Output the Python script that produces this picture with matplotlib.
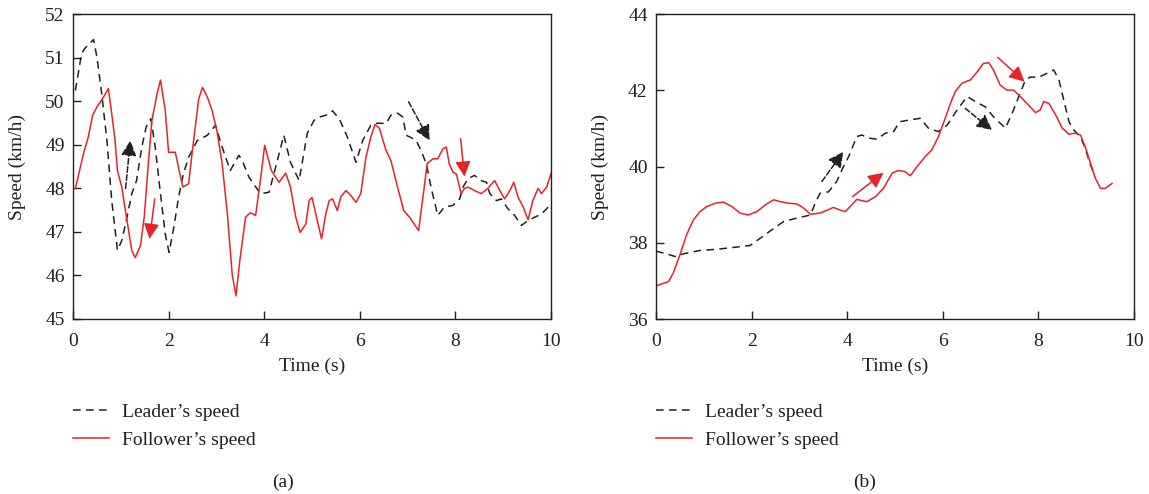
import matplotlib
matplotlib.use("Agg")
import matplotlib.pyplot as plt

plt.rcParams["font.family"] = ["Liberation Serif", "DejaVu Serif"]
plt.rcParams["font.size"] = 14

# (a) leader / follower speeds, km/h
lead_a_t = [0.05, 0.18, 0.25, 0.43, 0.50, 0.60, 0.71, 0.81, 0.93, 1.02, 1.13, 1.23, 1.33, 1.44,
            1.53, 1.63, 1.72, 1.83, 1.93, 2.01, 2.11, 2.21, 2.31, 2.42, 2.60, 2.81, 2.98, 3.12,
            3.29, 3.47, 3.54, 3.68, 3.92, 4.10, 4.24, 4.41, 4.55, 4.73, 4.90, 5.04, 5.15, 5.29,
            5.43, 5.57, 5.74, 5.92, 6.06, 6.23, 6.37, 6.55, 6.65, 6.79, 6.90, 6.97, 7.07, 7.18,
            7.28, 7.39, 7.49, 7.63, 7.77, 7.95, 8.09, 8.16, 8.26, 8.40, 8.54, 8.65, 8.72, 8.86,
            8.96, 9.10, 9.24, 9.38, 9.52, 9.66, 9.80, 10.0]
lead_a_v = [50.25, 51.10, 51.22, 51.42, 51.02, 50.18, 49.10, 47.72, 46.58, 46.80, 47.34, 47.88,
            48.18, 48.95, 49.41, 49.60, 48.95, 47.88, 46.95, 46.53, 47.11, 47.80, 48.34, 48.72,
            49.10, 49.22, 49.45, 48.95, 48.41, 48.76, 48.64, 48.26, 47.88, 47.91, 48.49, 49.22,
            48.60, 48.18, 49.26, 49.56, 49.64, 49.68, 49.78, 49.60, 49.18, 48.60, 49.10, 49.45,
            49.50, 49.49, 49.68, 49.73, 49.64, 49.22, 49.17, 49.10, 48.87, 48.57, 48.03, 47.38,
            47.57, 47.61, 47.76, 48.03, 48.22, 48.30, 48.18, 48.14, 47.88, 47.72, 47.76, 47.53,
            47.38, 47.15, 47.26, 47.34, 47.41, 47.64]
foll_a_t = [0.05, 0.22, 0.32, 0.41, 0.50, 0.60, 0.74, 0.81, 0.88, 0.93, 1.02, 1.13, 1.23, 1.30,
            1.41, 1.49, 1.56, 1.65, 1.76, 1.83, 1.93, 2.00, 2.14, 2.25, 2.30, 2.42, 2.49, 2.63,
            2.71, 2.81, 2.91, 3.01, 3.12, 3.23, 3.33, 3.41, 3.49, 3.61, 3.71, 3.82, 3.92, 4.01,
            4.15, 4.31, 4.45, 4.55, 4.66, 4.75, 4.87, 4.94, 5.00, 5.08, 5.20, 5.29, 5.36, 5.43,
            5.53, 5.60, 5.71, 5.81, 5.92, 6.02, 6.13, 6.23, 6.32, 6.41, 6.55, 6.65, 6.79, 6.92,
            7.04, 7.14, 7.23, 7.32, 7.41, 7.53, 7.63, 7.74, 7.81, 7.87, 7.95, 8.02, 8.12, 8.19,
            8.26, 8.40, 8.54, 8.68, 8.82, 8.93, 9.03, 9.14, 9.22, 9.31, 9.42, 9.52, 9.62, 9.73,
            9.80, 9.91, 10.0]
foll_a_v = [48.00, 48.80, 49.18, 49.68, 49.87, 50.03, 50.29, 49.72, 49.10, 48.41, 48.03, 47.26,
            46.57, 46.41, 46.68, 47.34, 48.34, 49.56, 50.18, 50.49, 49.79, 48.83, 48.83, 48.26,
            48.03, 48.11, 48.80, 50.06, 50.32, 50.10, 49.79, 49.33, 48.57, 47.41, 46.03, 45.53,
            46.34, 47.34, 47.44, 47.38, 48.18, 48.99, 48.41, 48.14, 48.35, 48.03, 47.34, 46.99,
            47.18, 47.72, 47.79, 47.41, 46.84, 47.42, 47.72, 47.76, 47.49, 47.80, 47.95, 47.84,
            47.68, 47.88, 48.72, 49.18, 49.47, 49.38, 48.87, 48.64, 48.03, 47.49, 47.34, 47.18,
            47.03, 47.79, 48.57, 48.68, 48.68, 48.91, 48.95, 48.57, 48.37, 48.33, 47.88, 48.00,
            48.03, 47.95, 47.88, 48.00, 48.18, 47.95, 47.76, 47.95, 48.14, 47.80, 47.57, 47.28,
            47.72, 48.00, 47.88, 48.03, 48.34]

# (b) leader / follower speeds, km/h
lead_b_t = [0.00, 0.22, 0.40, 0.57, 0.92, 1.27, 1.62, 1.97, 2.18, 2.42, 2.67, 2.95, 3.23, 3.33,
            3.43, 3.61, 3.78, 3.92, 4.03, 4.20, 4.31, 4.45, 4.62, 4.80, 4.97, 5.10, 5.32, 5.53,
            5.70, 5.91, 6.09, 6.30, 6.51, 6.68, 6.89, 7.06, 7.31, 7.45, 7.59, 7.73, 7.83, 8.01,
            8.18, 8.32, 8.43, 8.53, 8.64, 8.74, 8.88, 8.98, 9.09, 9.16]
lead_b_v = [37.78, 37.71, 37.64, 37.71, 37.80, 37.83, 37.88, 37.93, 38.12, 38.34, 38.56, 38.65,
            38.73, 39.04, 39.30, 39.34, 39.61, 40.00, 40.26, 40.79, 40.83, 40.75, 40.72, 40.88,
            40.92, 41.18, 41.23, 41.27, 41.01, 40.92, 41.09, 41.49, 41.84, 41.71, 41.57, 41.31,
            41.01, 41.40, 41.84, 42.28, 42.35, 42.35, 42.45, 42.54, 42.28, 41.75, 41.18, 40.96,
            40.79, 40.48, 40.04, 39.83]
foll_b_t = [0.00, 0.26, 0.36, 0.50, 0.64, 0.78, 0.92, 1.06, 1.24, 1.41, 1.59, 1.76, 1.93, 2.11,
            2.28, 2.46, 2.60, 2.77, 2.95, 3.09, 3.23, 3.43, 3.57, 3.71, 3.85, 3.96, 4.06, 4.20,
            4.41, 4.59, 4.76, 4.94, 5.07, 5.21, 5.32, 5.46, 5.63, 5.77, 5.91, 6.05, 6.16, 6.26,
            6.40, 6.58, 6.72, 6.85, 6.96, 7.06, 7.20, 7.34, 7.48, 7.62, 7.76, 7.94, 8.04, 8.11,
            8.22, 8.36, 8.50, 8.64, 8.77, 8.88, 8.98, 9.09, 9.19, 9.30, 9.40, 9.54]
foll_b_v = [36.87, 36.98, 37.20, 37.68, 38.21, 38.60, 38.82, 38.95, 39.04, 39.07, 38.95, 38.78,
            38.73, 38.82, 38.99, 39.13, 39.08, 39.04, 39.02, 38.91, 38.75, 38.78, 38.85, 38.93,
            38.86, 38.82, 38.95, 39.14, 39.08, 39.21, 39.43, 39.83, 39.90, 39.87, 39.76, 40.00,
            40.26, 40.44, 40.79, 41.27, 41.66, 41.97, 42.19, 42.28, 42.49, 42.71, 42.73, 42.54,
            42.14, 42.01, 42.01, 41.84, 41.66, 41.42, 41.49, 41.71, 41.66, 41.36, 41.01, 40.85,
            40.88, 40.83, 40.52, 40.09, 39.70, 39.43, 39.43, 39.56]

# direction arrows: (tail t, tail v, head t, head v, who)
arrows_a = [(1.10, 48.00, 1.20, 49.10, "lead"), (1.71, 47.76, 1.60, 46.84, "foll"),
            (7.02, 49.99, 7.46, 49.10, "lead"), (8.11, 49.14, 8.19, 48.27, "foll")]
arrows_b = [(3.47, 39.61, 3.92, 40.39, "lead"), (4.11, 39.21, 4.76, 39.84, "foll"),
            (6.47, 41.53, 7.03, 40.96, "lead"), (7.15, 42.87, 7.71, 42.23, "foll")]

yticks_a = [45, 46, 47, 48, 49, 50, 51, 52]
yticks_b = [36, 38, 40, 42, 44]
xticks = [0, 2, 4, 6, 8, 10]

RED = "#e3242b"
BLACK = "#231f20"
DASH = (0, (5, 3.5))

W, H = 1149, 494
fig = plt.figure(figsize=(W / 100, H / 100), dpi=100)
ax_a = fig.add_axes([73 / W, 1 - 319 / H, (551 - 73) / W, (319 - 14.3) / H])
ax_b = fig.add_axes([656 / W, 1 - 319 / H, (1134 - 656) / W, (319 - 14.3) / H])

panels = [
    (ax_a, lead_a_t, lead_a_v, foll_a_t, foll_a_v, arrows_a, yticks_a, "(a)", 283),
    (ax_b, lead_b_t, lead_b_v, foll_b_t, foll_b_v, arrows_b, yticks_b, "(b)", 865),
]

for ax, lt, lv, ft, fv, arrows, yt, tag, tag_x in panels:
    ax.plot(lt, lv, color=BLACK, lw=1.1, linestyle=DASH, label="Leader\u2019s speed")
    ax.plot(ft, fv, color=RED, lw=1.1, label="Follower\u2019s speed")
    for t0, v0, t1, v1, who in arrows:
        col = BLACK if who == "lead" else RED
        ls = "--" if who == "lead" else "-"
        ax.annotate("", xy=(t1, v1), xytext=(t0, v0),
                    arrowprops=dict(arrowstyle="-|>", color=col, lw=1.1, linestyle=ls,
                                    mutation_scale=23, shrinkA=0, shrinkB=0))
    ax.set_xlim(0, 10)
    ax.set_ylim(yt[0], yt[-1])
    ax.set_xticks(xticks)
    ax.set_yticks(yt)
    ax.tick_params(direction="in", length=6, width=1, color=BLACK, labelcolor=BLACK)
    ax.tick_params(axis="x", pad=10)
    ax.tick_params(axis="y", pad=6)
    for sp in ax.spines.values():
        sp.set_color(BLACK)
        sp.set_linewidth(1)
    ax.set_xlabel("Time (s)", color=BLACK, labelpad=5.5)
    ax.set_ylabel("Speed (km/h)", color=BLACK, labelpad=14)
    left = ax.get_position().x0
    ax.legend(loc="upper left", bbox_to_anchor=(left, 1 - 403 / H),
              bbox_transform=fig.transFigure, frameon=False, borderpad=0,
              borderaxespad=0, handlelength=1.85, handletextpad=0.65,
              labelspacing=0.56, fontsize=14, labelcolor=BLACK)
    fig.text(tag_x / W, 1 - 482 / H, tag, ha="center", va="center", color=BLACK, fontsize=14)

fig.savefig("out.png", dpi=100)
